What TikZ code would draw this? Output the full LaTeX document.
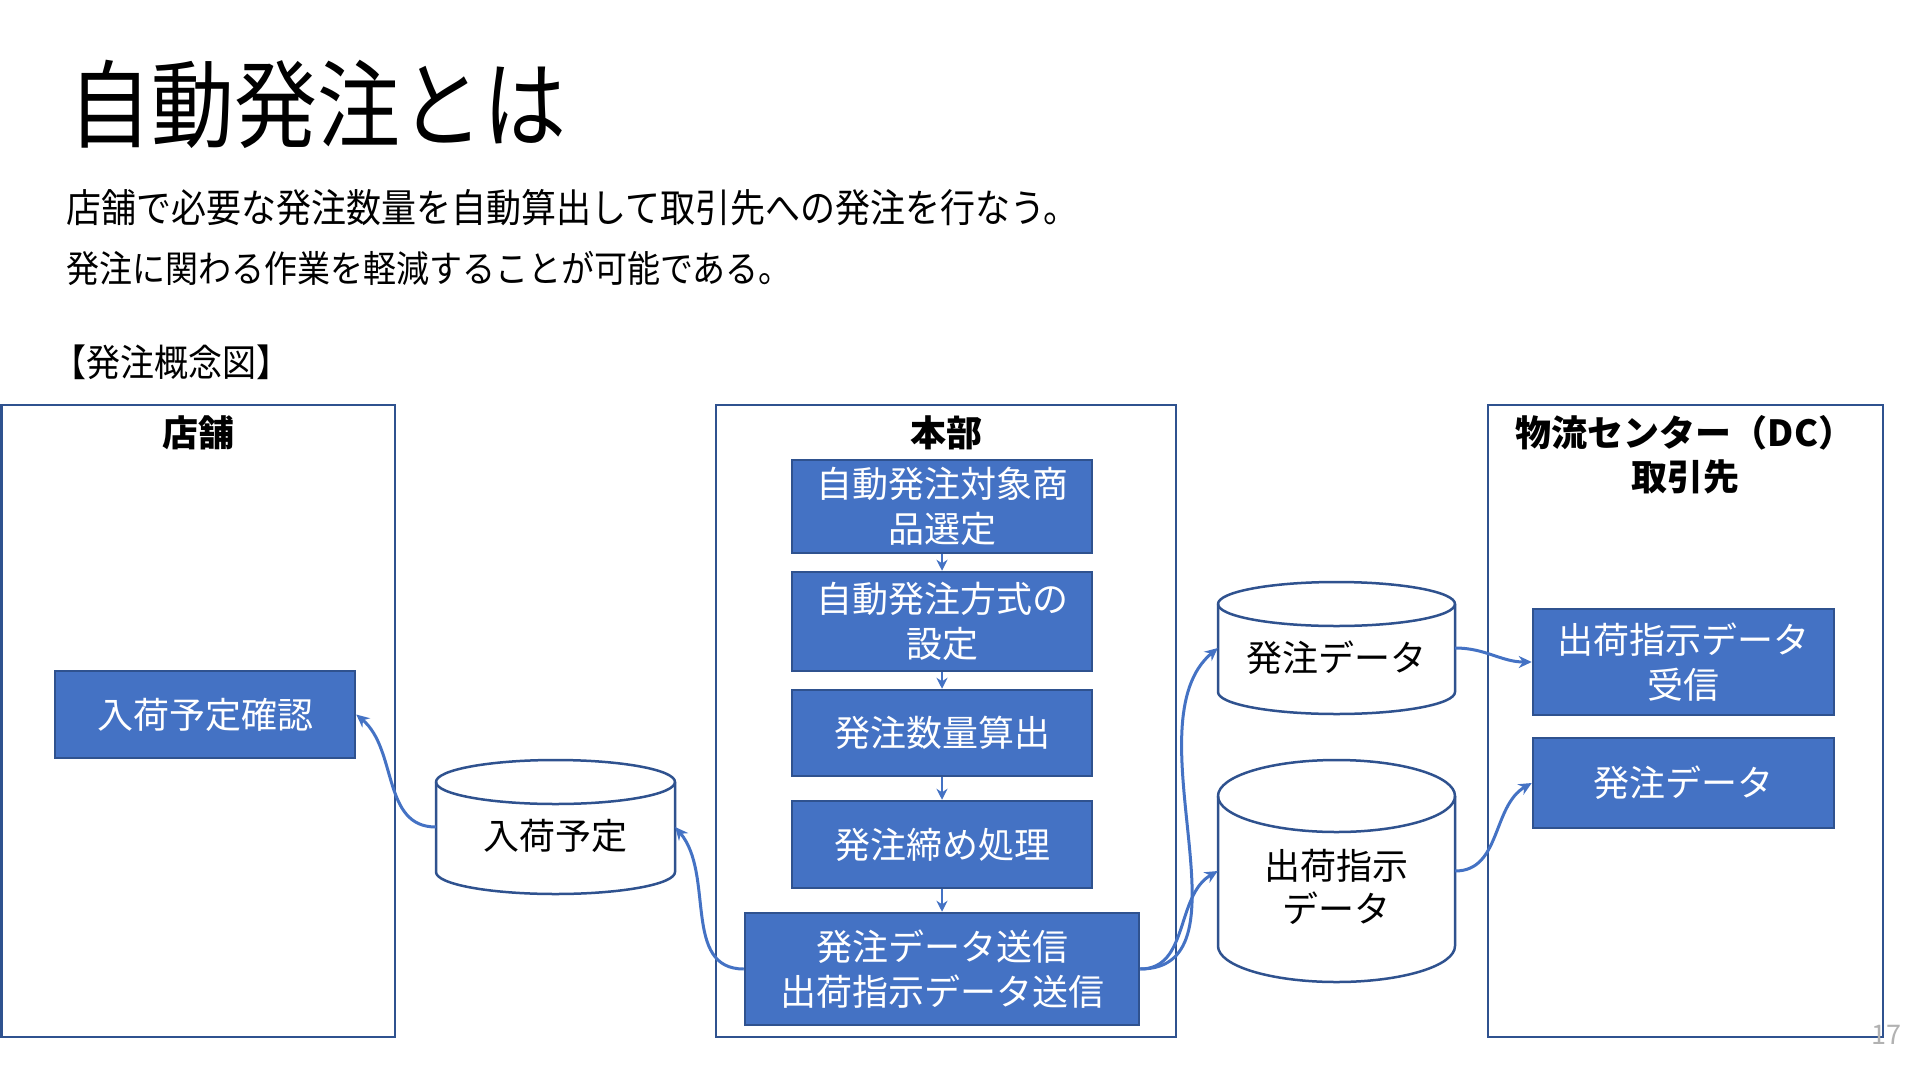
\documentclass[tikz,border=0pt]{standalone}
\usepackage{fontspec}
\setmainfont{Noto Sans CJK JP}
\usetikzlibrary{arrows.meta}
\definecolor{boxblue}{HTML}{4472C4}
\definecolor{edgeblue}{HTML}{2F528F}
\tikzset{
  container/.style={draw=edgeblue, line width=2.5pt, inner sep=0pt},
  procbox/.style={draw=edgeblue, line width=2.5pt, fill=boxblue, text=white,
    font=\fontsize{36}{45}\selectfont, align=center, inner sep=0pt},
  conn/.style={draw=boxblue, line width=3pt, -{Stealth[length=13pt,width=12pt]}},
  flow/.style={draw=boxblue, line width=2pt, -{Stealth[length=11pt,width=11pt]}},
  cylline/.style={draw=edgeblue, line width=2.5pt, fill=white},
  cyltext/.style={font=\fontsize{36}{43}\selectfont, align=center, inner sep=0pt},
  headtext/.style={font=\bfseries\fontsize{36}{44}\selectfont, align=center, inner sep=0pt},
  plaintext/.style={anchor=west, inner sep=0pt}
}
\newcommand\mybox[7]{% style, name, x1, y1, x2, y2, text
  \node[#1, minimum width={#5-#3}, minimum height={#6-#4}] (#2)
    at ({(#3+#5)/2},{-(#4+#6)/2}) {#7};
}
\newcommand\mycyl[8]{% name, x1, ytop, x2, ybot, r, text y, text
  \draw[cylline] (#2,{-(#3+#6)}) -- (#2,{-(#5-#6)})
    arc[start angle=180,end angle=360,x radius={(#4-#2)/2},y radius=#6]
    -- (#4,{-(#3+#6)})
    arc[start angle=0,end angle=180,x radius={(#4-#2)/2},y radius=#6] -- cycle;
  \draw[cylline, fill=none] (#2,{-(#3+#6)})
    arc[start angle=180,end angle=360,x radius={(#4-#2)/2},y radius=#6];
  \node[inner sep=0pt, minimum width={#4-#2}, minimum height={#5-#3}] (#1)
    at ({(#2+#4)/2},{-(#3+#5)/2}) {};
  \node[cyltext] (#1-t) at ({(#2+#4)/2},-#7) {#8};
}
\begin{document}
\begin{tikzpicture}[x=1pt,y=1pt]
\fill[white] (0,0) rectangle (1917,-1068);
\useasboundingbox (0,0) rectangle (1917,-1068);

% heading texts
\node[plaintext, font=\fontsize{83}{90}\selectfont] (title) at (68,-104) {\scalebox{1}[1.15]{自動発注とは}};
\node[plaintext, font=\fontsize{35}{40}\selectfont] (sub1) at (66,-208) {\scalebox{1}[1.12]{店舗で必要な発注数量を自動算出して取引先への発注を行なう。}};
\node[plaintext, font=\fontsize{33}{40}\selectfont] (sub2) at (66,-268) {\scalebox{1}[1.12]{発注に関わる作業を軽減することが可能である。}};
\node[plaintext, font=\fontsize{34}{40}\selectfont] (fig) at (52,-362) {\scalebox{1}[1.1]{【発注概念図】}};

% containers
\mybox{container}{store}{1.5}{405}{395}{1037}{}
\mybox{container}{hq}{716}{405}{1176}{1037}{}
\mybox{container}{dc}{1488}{405}{1883}{1037}{}
\node[headtext] (storeT) at (198,-433) {店舗};
\node[headtext] (hqT) at (946,-433) {本部};
\node[headtext] (dcT) at (1685,-455) {物流センター（DC）\\取引先};

% store
\mybox{procbox}{chk}{55}{671}{355}{758}{入荷予定確認}

% HQ process boxes
\mybox{procbox}{b1}{792}{460}{1092}{553}{自動発注対象商\\品選定}
\mybox{procbox}{b2}{792}{572}{1092}{671}{自動発注方式の\\設定}
\mybox{procbox}{b3}{792}{690}{1092}{776}{発注数量算出}
\mybox{procbox}{b4}{792}{801}{1092}{888}{発注締め処理}
\mybox{procbox}{b5}{745}{913}{1139}{1025}{発注データ送信\\出荷指示データ送信}

% DC boxes
\mybox{procbox}{r1}{1533}{609}{1834}{715}{出荷指示データ\\受信}
\mybox{procbox}{r2}{1533}{738}{1834}{828}{発注データ}

% cylinders
\mycyl{cin}{436}{760}{675}{894}{22}{836}{入荷予定}
\mycyl{cord}{1218}{582}{1455}{714}{22}{658}{発注データ}
\mycyl{cship}{1218}{760}{1455}{982}{36}{887}{出荷指示\\データ}

% flow arrows
\draw[flow] (b1.south) -- (b2.north);
\draw[flow] (b2.south) -- (b3.north);
\draw[flow] (b3.south) -- (b4.north);
\draw[flow] (b4.south) -- (b5.north);

% connectors
\draw[conn] (cin.west) to[out=180,in=-40] (chk.east);
\draw[conn] (b5.west) to[out=180,in=-50] (cin.east);
\draw[conn] (b5.east) to[out=0,in=-140,looseness=0.9] (cord.west);
\draw[conn] (b5.east) to[out=0,in=-150] (cship.west);
\draw[conn] (cord.east) to[out=0,in=180] (r1.west);
\draw[conn] (cship.east) to[out=0,in=-150] (r2.west);

% page number
\node[text=gray!60, font=\fontsize{27}{30}\selectfont, inner sep=0pt] (pg) at (1886,-1035) {17};
\end{tikzpicture}
\end{document}
